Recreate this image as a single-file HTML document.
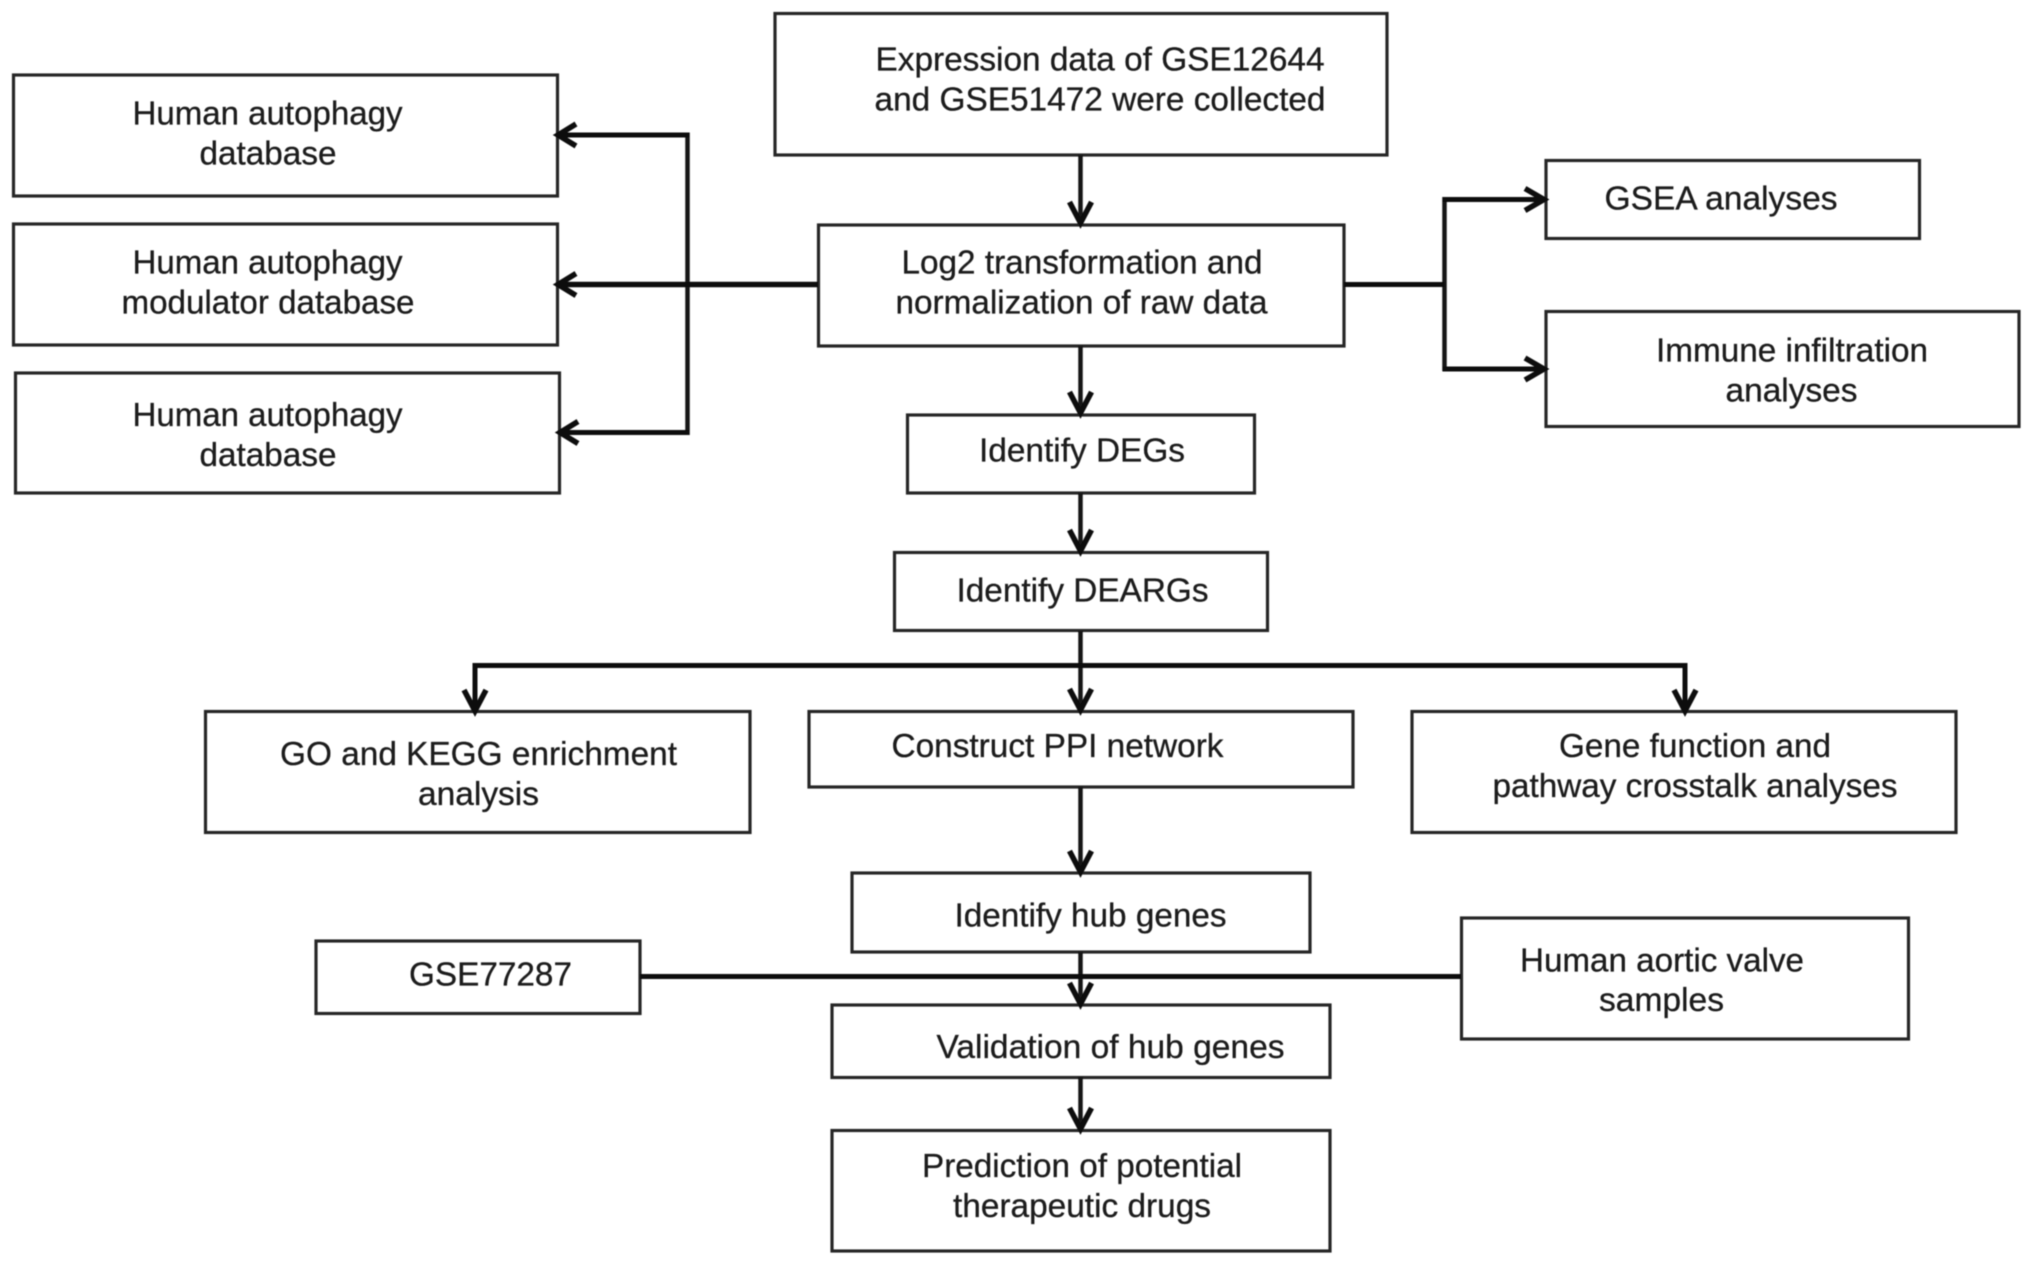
<!DOCTYPE html>
<html>
<head>
<meta charset="utf-8">
<style>
html,body{margin:0;padding:0;background:#fff;}
svg{display:block;}
text{font-family:"Liberation Sans",sans-serif;font-size:33px;fill:#1c1c1c;stroke:#1c1c1c;stroke-width:0.3px;}
.b{fill:none;stroke:#262626;stroke-width:3.2;}
.l{fill:none;stroke:#161616;stroke-width:4.5;}
.t{fill:none;stroke:#111;stroke-width:5;}
.a{fill:none;stroke:#111;stroke-width:5.5;stroke-linejoin:miter;}
</style>
</head>
<body>
<svg width="2032" height="1265" viewBox="0 0 2032 1265" xmlns="http://www.w3.org/2000/svg">
<defs><filter id="s" filterUnits="userSpaceOnUse" x="0" y="0" width="2032" height="1265"><feGaussianBlur stdDeviation="0.6"/></filter></defs>
<rect width="2032" height="1265" fill="#fff"/>
<g filter="url(#s)">
<!-- boxes -->
<rect class="b" x="13.5" y="75" width="544" height="121"/>
<rect class="b" x="13.5" y="224" width="544" height="121"/>
<rect class="b" x="15.5" y="373" width="544" height="120"/>
<rect class="b" x="775" y="13.5" width="612" height="141.5"/>
<rect class="b" x="818.5" y="225" width="525.5" height="121"/>
<rect class="b" x="907.5" y="415" width="347" height="78"/>
<rect class="b" x="894.5" y="552.5" width="373" height="78"/>
<rect class="b" x="1546" y="160.5" width="373.5" height="78"/>
<rect class="b" x="1546" y="311.5" width="473" height="115"/>
<rect class="b" x="205.5" y="711.5" width="544.5" height="121"/>
<rect class="b" x="809" y="711.5" width="544" height="75.5"/>
<rect class="b" x="1412" y="711.5" width="544" height="121"/>
<rect class="b" x="852" y="873" width="458" height="79"/>
<rect class="b" x="316" y="941" width="324" height="72.5"/>
<rect class="b" x="1461.5" y="918" width="447" height="121"/>
<rect class="b" x="832" y="1005" width="498" height="72.5"/>
<rect class="b" x="832" y="1130.5" width="498" height="120.5"/>

<!-- connectors -->
<path class="l" d="M1084 155" />
<path class="l" d="M1080.500 155V222M1080.500 346V412M1080.500 493V550M1080.500 631V709M1080.500 787V871M1080.500 952V1003M1080.500 1077V1128"/>
<path class="t" d="M473 665.500H1687M475 663V710M1685 663V710"/>
<path class="l" d="M687.500 132.500V435"/>
<path class="t" d="M558 135H689.500M560 432.500H689.500"/>
<path class="t" d="M558 284.500H818" style="stroke-width:5.5"/>
<path class="l" d="M1444.500 197V371"/>
<path class="t" d="M1442.500 199.500H1543M1344 284.500H1444.500M1442.500 369H1543"/>
<path class="t" d="M640 976.500H1461"/>

<!-- arrowheads -->
<path class="a" d="M1069.500 202L1080.500 223L1091.500 202"/>
<path class="a" d="M1069.500 392L1080.500 413L1091.500 392"/>
<path class="a" d="M1069.500 530L1080.500 551L1091.500 530"/>
<path class="a" d="M1069.500 689L1080.500 710L1091.500 689"/>
<path class="a" d="M1069.500 851L1080.500 872L1091.500 851"/>
<path class="a" d="M1069.500 983L1080.500 1004L1091.500 983"/>
<path class="a" d="M1069.500 1108L1080.500 1129L1091.500 1108"/>
<path class="a" d="M464 690L475 711L486 690"/>
<path class="a" d="M1674 690L1685 711L1696 690"/>
<path class="a" d="M576 124L558 135L576 146"/>
<path class="a" d="M576 273.500L558 284.500L576 295.500"/>
<path class="a" d="M578 421.500L560 432.500L578 443.500"/>
<path class="a" d="M1525 188.500L1544 199.500L1525 210.500"/>
<path class="a" d="M1525 358L1544 369L1525 380"/>

<!-- text -->
<text x="132.500" y="124.500" textLength="270" lengthAdjust="spacingAndGlyphs">Human autophagy</text>
<text x="199.500" y="164.500" textLength="137" lengthAdjust="spacingAndGlyphs">database</text>
<text x="132.500" y="273.500" textLength="270" lengthAdjust="spacingAndGlyphs">Human autophagy</text>
<text x="121.500" y="313.500" textLength="293" lengthAdjust="spacingAndGlyphs">modulator database</text>
<text x="132.500" y="426" textLength="270" lengthAdjust="spacingAndGlyphs">Human autophagy</text>
<text x="199.500" y="466" textLength="137" lengthAdjust="spacingAndGlyphs">database</text>
<text x="875.500" y="70.500" textLength="449" lengthAdjust="spacingAndGlyphs">Expression data of GSE12644</text>
<text x="874.500" y="110.500" textLength="451" lengthAdjust="spacingAndGlyphs">and GSE51472 were collected</text>
<text x="901.500" y="273.500" textLength="361" lengthAdjust="spacingAndGlyphs">Log2 transformation and</text>
<text x="895.500" y="313.500" textLength="372" lengthAdjust="spacingAndGlyphs">normalization of raw data</text>
<text x="979" y="461.500" textLength="206" lengthAdjust="spacingAndGlyphs">Identify DEGs</text>
<text x="956.500" y="601.500" textLength="252" lengthAdjust="spacingAndGlyphs">Identify DEARGs</text>
<text x="1604.500" y="209.500" textLength="233" lengthAdjust="spacingAndGlyphs">GSEA analyses</text>
<text x="1656" y="361.500" textLength="272" lengthAdjust="spacingAndGlyphs">Immune infiltration</text>
<text x="1725.500" y="401.500" textLength="132" lengthAdjust="spacingAndGlyphs">analyses</text>
<text x="280" y="765" textLength="397" lengthAdjust="spacingAndGlyphs">GO and KEGG enrichment</text>
<text x="418" y="805" textLength="121" lengthAdjust="spacingAndGlyphs">analysis</text>
<text x="891.500" y="757" textLength="332" lengthAdjust="spacingAndGlyphs">Construct PPI network</text>
<text x="1559" y="757" textLength="272" lengthAdjust="spacingAndGlyphs">Gene function and</text>
<text x="1492.500" y="797" textLength="405" lengthAdjust="spacingAndGlyphs">pathway crosstalk analyses</text>
<text x="954.500" y="926.500" textLength="272" lengthAdjust="spacingAndGlyphs">Identify hub genes</text>
<text x="409" y="985.500" textLength="163" lengthAdjust="spacingAndGlyphs">GSE77287</text>
<text x="1520" y="971.500" textLength="284" lengthAdjust="spacingAndGlyphs">Human aortic valve</text>
<text x="1599" y="1011" textLength="125" lengthAdjust="spacingAndGlyphs">samples</text>
<text x="936.500" y="1058" textLength="348" lengthAdjust="spacingAndGlyphs">Validation of hub genes</text>
<text x="922" y="1177" textLength="320" lengthAdjust="spacingAndGlyphs">Prediction of potential</text>
<text x="953" y="1217" textLength="258" lengthAdjust="spacingAndGlyphs">therapeutic drugs</text>
</g>
</svg>
</body>
</html>
